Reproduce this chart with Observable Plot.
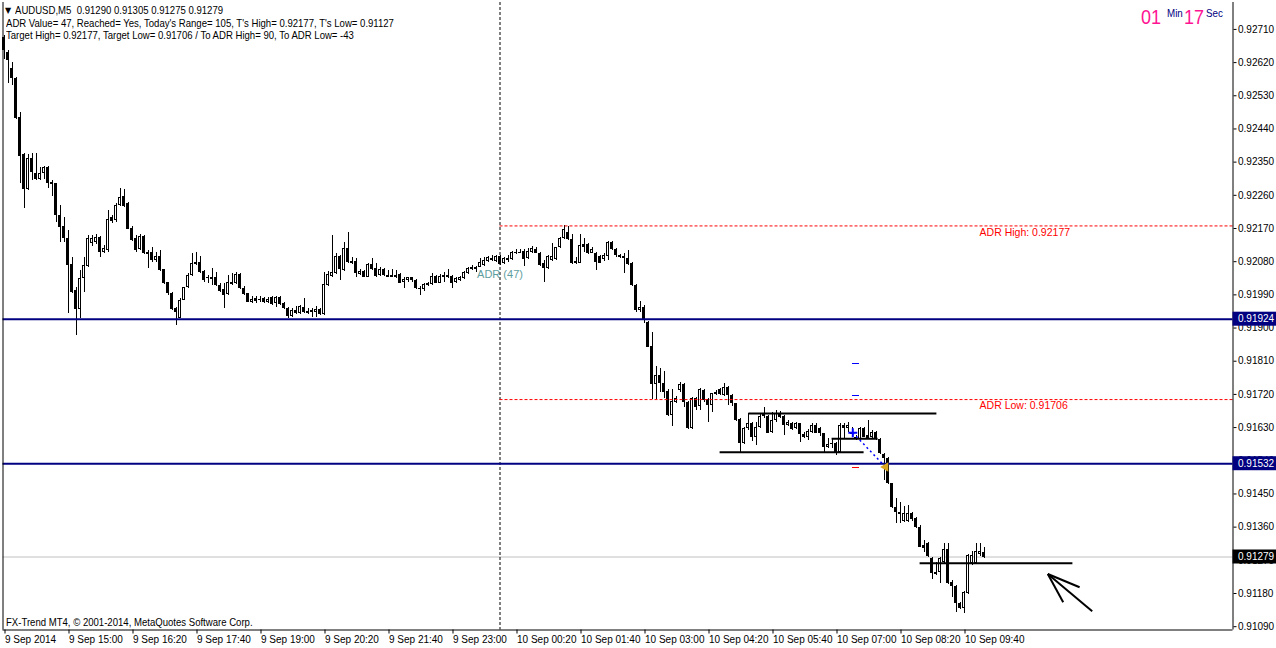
<!DOCTYPE html>
<html><head><meta charset="utf-8">
<script src="https://cdn.jsdelivr.net/npm/d3@7"></script>
<script src="https://cdn.jsdelivr.net/npm/@observablehq/plot@0.6"></script>
<style>
html,body{margin:0;padding:0;background:#fff;}
#wrap{position:relative;width:1276px;height:648px;overflow:hidden;}
#chart{position:absolute;left:0;top:0;}
.ov{position:absolute;white-space:pre;font-family:"Liberation Sans",Arial,sans-serif;font-size:11px;line-height:12px;color:#000;transform:scaleX(0.87);transform-origin:0 0;}
.big{position:absolute;white-space:pre;font-family:"Liberation Sans",Arial,sans-serif;font-size:20px;line-height:20px;color:#ff1493;transform:scaleX(0.9);transform-origin:0 0;}
.sm{position:absolute;white-space:pre;font-family:"Liberation Sans",Arial,sans-serif;font-size:11.5px;line-height:12px;color:#000080;transform:scaleX(0.85);transform-origin:0 0;}
</style></head><body>
<div id="wrap"><div id="chart"></div></div>
<script>
// ---------- data ----------
const startTime = Date.UTC(2014, 8, 9, 13, 40);   // first bar, M5
const barMinutes = 5;
const opens = [
0.92688,0.92648,0.92604,0.92577,0.92471,0.92371,0.92276,0.92360,0.92319,0.92303,
0.92319,0.92336,0.92295,0.92292,0.92205,0.92176,0.92143,0.92072,0.92002,0.91951,
0.92034,0.92067,0.92130,0.92133,0.92146,0.92105,0.92110,0.92200,0.92192,0.92232,
0.92257,0.92238,0.92170,0.92143,0.92113,0.92149,0.92105,0.92105,0.92083,0.92094,
0.92059,0.92024,0.91994,0.91953,0.91926,0.91975,0.92010,0.92042,0.92078,0.92078,
0.92053,0.92034,0.92031,0.92037,0.92015,0.92005,0.91991,0.92024,0.92021,0.92045,
0.92007,0.91994,0.91970,0.91981,0.91978,0.91981,0.91970,0.91983,0.91967,0.91983,
0.91967,0.91953,0.91932,0.91948,0.91940,0.91956,0.91945,0.91948,0.91943,0.91951,
0.91937,0.92015,0.92040,0.92048,0.92094,0.92056,0.92116,0.92080,0.92080,0.92045,
0.92053,0.92037,0.92072,0.92061,0.92042,0.92059,0.92042,0.92042,0.92042,0.92045,
0.92024,0.92029,0.92037,0.92029,0.92007,0.92005,0.92015,0.92018,0.92040,0.92021,
0.92042,0.92037,0.92040,0.92024,0.92029,0.92034,0.92048,0.92064,0.92064,0.92064,
0.92069,0.92080,0.92088,0.92080,0.92094,0.92075,0.92088,0.92086,0.92105,0.92105,
0.92108,0.92088,0.92105,0.92113,0.92102,0.92075,0.92061,0.92083,0.92086,0.92118,
0.92143,0.92160,0.92140,0.92080,0.92075,0.92127,0.92127,0.92102,0.92102,0.92094,
0.92086,0.92094,0.92133,0.92113,0.92097,0.92094,0.92088,0.92075,0.92015,0.91948,
0.91956,0.91915,0.91850,0.91747,0.91772,0.91750,0.91728,0.91663,0.91698,0.91731,
0.91747,0.91698,0.91627,0.91709,0.91687,0.91731,0.91706,0.91690,0.91720,0.91734,
0.91717,0.91739,0.91717,0.91695,0.91652,0.91587,0.91627,0.91641,0.91603,0.91630,
0.91668,0.91660,0.91617,0.91649,0.91668,0.91660,0.91636,0.91641,0.91627,0.91641,
0.91611,0.91603,0.91617,0.91636,0.91627,0.91614,0.91576,0.91587,0.91587,0.91562,
0.91636,0.91627,0.91614,0.91603,0.91598,0.91627,0.91608,0.91603,0.91617,0.91598,
0.91557,0.91546,0.91478,0.91413,0.91400,0.91375,0.91375,0.91397,0.91384,0.91359,
0.91310,0.91316,0.91275,0.91237,0.91237,0.91264,0.91300,0.91210,0.91199,0.91153,
0.91140,0.91180,0.91261,0.91261,0.91286,0.91290];
const highs = [
0.92693,0.92653,0.92621,0.92580,0.92485,0.92374,0.92371,0.92374,0.92374,0.92336,
0.92338,0.92338,0.92300,0.92292,0.92232,0.92200,0.92165,0.92091,0.92010,0.92056,
0.92091,0.92151,0.92151,0.92154,0.92149,0.92124,0.92219,0.92205,0.92238,0.92278,
0.92276,0.92241,0.92176,0.92151,0.92154,0.92151,0.92110,0.92118,0.92105,0.92110,
0.92059,0.92024,0.91997,0.91956,0.91981,0.92010,0.92048,0.92102,0.92105,0.92094,
0.92056,0.92042,0.92061,0.92050,0.92021,0.92021,0.92042,0.92048,0.92050,0.92048,
0.92013,0.91994,0.91986,0.91986,0.91986,0.91983,0.91983,0.91986,0.91986,0.91986,
0.91970,0.91956,0.91953,0.91959,0.91962,0.91981,0.91953,0.91953,0.91959,0.91953,
0.92050,0.92053,0.92151,0.92102,0.92097,0.92133,0.92160,0.92091,0.92088,0.92059,
0.92056,0.92075,0.92088,0.92075,0.92064,0.92061,0.92056,0.92059,0.92056,0.92048,
0.92037,0.92037,0.92037,0.92031,0.92013,0.92021,0.92024,0.92048,0.92042,0.92045,
0.92050,0.92059,0.92042,0.92037,0.92040,0.92053,0.92064,0.92069,0.92067,0.92088,
0.92091,0.92094,0.92097,0.92097,0.92097,0.92091,0.92097,0.92108,0.92113,0.92113,
0.92113,0.92116,0.92121,0.92118,0.92105,0.92083,0.92097,0.92130,0.92118,0.92146,
0.92177,0.92176,0.92154,0.92091,0.92154,0.92143,0.92130,0.92118,0.92105,0.92097,
0.92102,0.92135,0.92135,0.92116,0.92099,0.92102,0.92110,0.92078,0.92018,0.91972,
0.91962,0.91918,0.91888,0.91796,0.91790,0.91782,0.91734,0.91734,0.91714,0.91753,
0.91750,0.91700,0.91712,0.91712,0.91736,0.91734,0.91709,0.91723,0.91731,0.91736,
0.91750,0.91742,0.91720,0.91695,0.91654,0.91630,0.91668,0.91644,0.91644,0.91668,
0.91684,0.91663,0.91671,0.91676,0.91674,0.91663,0.91649,0.91644,0.91644,0.91641,
0.91617,0.91625,0.91641,0.91641,0.91630,0.91614,0.91600,0.91600,0.91589,0.91641,
0.91641,0.91644,0.91630,0.91608,0.91630,0.91630,0.91649,0.91622,0.91619,0.91600,
0.91560,0.91549,0.91478,0.91438,0.91427,0.91416,0.91419,0.91400,0.91386,0.91365,
0.91324,0.91318,0.91278,0.91264,0.91278,0.91316,0.91316,0.91215,0.91202,0.91156,
0.91186,0.91286,0.91294,0.91316,0.91316,0.91305];
const lows = [
0.92629,0.92564,0.92558,0.92465,0.92292,0.92224,0.92274,0.92300,0.92300,0.92300,
0.92303,0.92278,0.92257,0.92187,0.92133,0.92133,0.91940,0.91994,0.91879,0.91926,
0.91997,0.92064,0.92121,0.92127,0.92091,0.92102,0.92105,0.92184,0.92187,0.92230,
0.92227,0.92168,0.92135,0.92105,0.92110,0.92099,0.92061,0.92078,0.92078,0.92053,
0.92018,0.91989,0.91948,0.91906,0.91926,0.91975,0.92007,0.92040,0.92069,0.92048,
0.92024,0.92021,0.92015,0.92013,0.91997,0.91953,0.91989,0.92015,0.92018,0.92005,
0.91989,0.91970,0.91967,0.91967,0.91970,0.91967,0.91967,0.91962,0.91956,0.91962,
0.91951,0.91926,0.91929,0.91937,0.91937,0.91940,0.91937,0.91929,0.91929,0.91934,
0.91934,0.92013,0.92037,0.92045,0.92029,0.92053,0.92075,0.92072,0.92037,0.92042,
0.92037,0.92037,0.92056,0.92037,0.92040,0.92040,0.92037,0.92037,0.92034,0.92021,
0.92007,0.92024,0.92024,0.92005,0.91989,0.91999,0.92013,0.92015,0.92021,0.92021,
0.92024,0.92034,0.92007,0.92021,0.92026,0.92031,0.92045,0.92056,0.92050,0.92064,
0.92067,0.92078,0.92080,0.92078,0.92069,0.92072,0.92078,0.92083,0.92099,0.92102,
0.92067,0.92086,0.92102,0.92102,0.92067,0.92024,0.92059,0.92080,0.92083,0.92116,
0.92140,0.92138,0.92072,0.92072,0.92075,0.92105,0.92099,0.92102,0.92056,0.92075,
0.92080,0.92083,0.92110,0.92091,0.92088,0.92048,0.92069,0.92013,0.91943,0.91943,
0.91912,0.91847,0.91706,0.91706,0.91726,0.91709,0.91660,0.91633,0.91695,0.91726,
0.91684,0.91625,0.91625,0.91676,0.91676,0.91698,0.91644,0.91671,0.91717,0.91717,
0.91714,0.91690,0.91687,0.91646,0.91562,0.91584,0.91622,0.91592,0.91581,0.91627,
0.91655,0.91614,0.91614,0.91644,0.91655,0.91608,0.91633,0.91622,0.91625,0.91589,
0.91600,0.91595,0.91614,0.91614,0.91606,0.91562,0.91573,0.91573,0.91554,0.91560,
0.91600,0.91617,0.91603,0.91595,0.91595,0.91603,0.91598,0.91600,0.91595,0.91557,
0.91486,0.91476,0.91410,0.91370,0.91370,0.91373,0.91373,0.91375,0.91356,0.91305,
0.91291,0.91278,0.91218,0.91229,0.91207,0.91261,0.91205,0.91169,0.91129,0.91137,
0.91127,0.91178,0.91256,0.91259,0.91280,0.91275];
const closes = [
0.92653,0.92626,0.92577,0.92468,0.92366,0.92276,0.92360,0.92322,0.92303,0.92319,
0.92336,0.92292,0.92289,0.92205,0.92173,0.92143,0.92069,0.91997,0.91951,0.92034,
0.92069,0.92143,0.92143,0.92146,0.92105,0.92116,0.92195,0.92189,0.92232,0.92254,
0.92230,0.92168,0.92138,0.92110,0.92149,0.92102,0.92099,0.92083,0.92094,0.92056,
0.92021,0.91994,0.91951,0.91943,0.91975,0.92010,0.92042,0.92075,0.92072,0.92050,
0.92029,0.92037,0.92037,0.92015,0.91999,0.91989,0.92024,0.92021,0.92045,0.92007,
0.91991,0.91970,0.91978,0.91973,0.91975,0.91970,0.91978,0.91964,0.91983,0.91964,
0.91953,0.91932,0.91948,0.91940,0.91959,0.91943,0.91943,0.91943,0.91951,0.91937,
0.92018,0.92045,0.92050,0.92094,0.92059,0.92116,0.92078,0.92075,0.92048,0.92053,
0.92037,0.92072,0.92059,0.92040,0.92059,0.92042,0.92041,0.92041,0.92040,0.92021,
0.92031,0.92037,0.92029,0.92007,0.92006,0.92018,0.92021,0.92040,0.92021,0.92040,
0.92037,0.92042,0.92021,0.92034,0.92037,0.92050,0.92061,0.92059,0.92059,0.92078,
0.92083,0.92091,0.92087,0.92094,0.92072,0.92088,0.92086,0.92105,0.92102,0.92104,
0.92086,0.92108,0.92116,0.92102,0.92069,0.92061,0.92094,0.92094,0.92118,0.92143,
0.92168,0.92140,0.92075,0.92075,0.92124,0.92118,0.92102,0.92113,0.92078,0.92075,
0.92097,0.92133,0.92113,0.92097,0.92091,0.92088,0.92072,0.92015,0.91948,0.91956,
0.91920,0.91847,0.91747,0.91772,0.91750,0.91726,0.91663,0.91700,0.91709,0.91747,
0.91698,0.91627,0.91709,0.91684,0.91734,0.91703,0.91690,0.91723,0.91726,0.91720,
0.91739,0.91717,0.91695,0.91649,0.91587,0.91627,0.91641,0.91603,0.91630,0.91660,
0.91660,0.91614,0.91649,0.91668,0.91657,0.91636,0.91644,0.91625,0.91641,0.91611,
0.91603,0.91619,0.91636,0.91614,0.91614,0.91576,0.91584,0.91586,0.91560,0.91636,
0.91627,0.91636,0.91613,0.91598,0.91627,0.91603,0.91600,0.91617,0.91598,0.91560,
0.91546,0.91478,0.91413,0.91400,0.91394,0.91397,0.91397,0.91381,0.91359,0.91305,
0.91302,0.91280,0.91234,0.91234,0.91275,0.91300,0.91207,0.91199,0.91153,0.91140,
0.91183,0.91283,0.91283,0.91294,0.91294,0.91279];

const xTickLabels = ["9 Sep 2014","9 Sep 15:00","9 Sep 16:20","9 Sep 17:40","9 Sep 19:00","9 Sep 20:20",
  "9 Sep 21:40","9 Sep 23:00","10 Sep 00:20","10 Sep 01:40","10 Sep 03:00","10 Sep 04:20",
  "10 Sep 05:40","10 Sep 07:00","10 Sep 08:20","10 Sep 09:40"];
const xTickEvery = 16; // bars between labels (80 min)
const yTicks = [0.92710,0.92620,0.92530,0.92440,0.92350,0.92260,0.92170,0.92080,0.91990,
  0.91900,0.91810,0.91720,0.91630,0.91540,0.91450,0.91360,0.91270,0.91180,0.91090];
const priceMin = 0.91081, priceMax = 0.92783;
const barsVisible = 307.5;

const levelLines = [0.91924, 0.91532];          // navy horizontal lines
const bidPrice = 0.91279;
const adrValue = 47;
const adrLevels = [{name: "ADR High", price: 0.92177}, {name: "ADR Low", price: 0.91706}];
const adrLabelBar = 243.9;
const adrTextPrice = 0.92045;
const trendLines = [
  {x1: 186.1, x2: 233.1, y1: 0.91668, y2: 0.91668},
  {x1: 178.9, x2: 214.9, y1: 0.91563, y2: 0.91563},
  {x1: 206.9, x2: 218.4, y1: 0.91600, y2: 0.91600},
  {x1: 228.9, x2: 267.1, y1: 0.91262, y2: 0.91262}
];
const arrowSegments = [
  {x1: 272.05, y1: 0.91132, x2: 260.95, y2: 0.91233},
  {x1: 268.9, y1: 0.91197, x2: 260.95, y2: 0.91233},
  {x1: 264.8, y1: 0.91156, x2: 260.95, y2: 0.91233}
];
const signalLine = {x1: 212.2, y1: 0.91616, x2: 220.4, y2: 0.91523};
const signalDashes = [
  {price: 0.91804, color: "#0000ff"},
  {price: 0.91717, color: "#0000ff"},
  {price: 0.91522, color: "#ff0000"}
];
const signalDashBars = [212.2, 213.9];

const headerLines = [
  "AUDUSD,M5  0.91290 0.91305 0.91275 0.91279",
  "ADR Value= 47, Reached= Yes, Today's Range= 105, T's High= 0.92177, T's Low= 0.91127",
  "Target High= 0.92177, Target Low= 0.91706 / To ADR High= 90, To ADR Low= -43"
];
const footerText = "FX-Trend MT4, \u00a9 2001-2014, MetaQuotes Software Corp.";
const timer = {min: "01", sec: "17"};

// ---------- build ----------
const candles = opens.map((o, i) => ({i, o, h: highs[i], l: lows[i], c: closes[i]}));
const up = candles.filter(d => d.c > d.o);
const flat = candles.filter(d => Math.abs(d.c - d.o) < 0.00003);
const xMin = -0.25, xMax = xMin + barsVisible;
const dayStartBar = (Date.UTC(2014, 8, 10, 0, 0) - startTime) / (barMinutes * 60000);
const xTickBars = xTickLabels.map((_, k) => k * xTickEvery);
const labelOf = new Map(xTickBars.map((b, k) => [b, xTickLabels[k]]));
const plotH = 648 - 2 - 18.5;
const boxHalf = (priceMax - priceMin) / plotH * 7;
const tagSpan = 43.5 / ((1276 - 2.5 - 43.5) / barsVisible);
const priceTags = [
  {price: levelLines[0], bg: "#000080"},
  {price: levelLines[1], bg: "#000080"},
  {price: bidPrice, bg: "#000000"}
];
const half = 0.375;
const crisp = {shapeRendering: "crispEdges"};

const chart = Plot.plot({
  width: 1276, height: 648,
  marginLeft: 2.5, marginRight: 43.5, marginTop: 2, marginBottom: 18.5,
  x: {type: "linear", domain: [xMin, xMax]},
  y: {domain: [priceMin, priceMax]},
  style: "font-family:'Liberation Sans',Arial,sans-serif;font-size:10px;background:#fff;overflow:visible;color:#000;",
  marks: [
    Plot.ruleY([bidPrice], {stroke: "#c0c0c0"}),
    Plot.ruleX([dayStartBar], {stroke: "#000", strokeDasharray: "3,2"}),
    // candles
    Plot.ruleX(candles, {x: "i", y1: "l", y2: "h", stroke: "#000", ...crisp}),
    Plot.rect(candles, {x1: d => d.i - half, x2: d => d.i + half,
      y1: d => Math.min(d.o, d.c), y2: d => Math.max(d.o, d.c), fill: "#000", ...crisp}),
    Plot.rect(up, {x1: d => d.i - half, x2: d => d.i + half,
      y1: "o", y2: "c", fill: "#fff", inset: 1, ...crisp}),
    Plot.ruleY(flat, {y: "c", x1: d => d.i - half, x2: d => d.i + half, stroke: "#000", ...crisp}),
    // objects
    Plot.ruleY(adrLevels, {y: "price", x1: dayStartBar, x2: xMax, stroke: "#ff0000", strokeDasharray: "3,2"}),
    Plot.text(adrLevels, {x: adrLabelBar, y: "price", text: d => `${d.name}: ${d.price.toFixed(5)}`,
      fill: "#ff0000", textAnchor: "start", dy: 6.5, fontSize: 10.5}),
    Plot.text([`ADR (${adrValue})`], {x: dayStartBar, y: adrTextPrice, text: d => d,
      fill: "#5f9ea0", textAnchor: "middle", fontSize: 11}),
    Plot.ruleY(levelLines, {stroke: "#000080", strokeWidth: 2}),
    Plot.link(trendLines, {x1: "x1", y1: "y1", x2: "x2", y2: "y2", stroke: "#000", strokeWidth: 2}),
    Plot.link(arrowSegments, {x1: "x1", y1: "y1", x2: "x2", y2: "y2", stroke: "#000", strokeWidth: 2}),
    Plot.link([signalLine], {x1: "x1", y1: "y1", x2: "x2", y2: "y2", stroke: "#0000ff", strokeWidth: 1.5, strokeDasharray: "2,3"}),
    Plot.dot([signalLine], {x: "x1", y: "y1", symbol: "plus", r: 3, stroke: "#0000ff", strokeWidth: 2}),
    Plot.dot([signalLine], {x: "x2", y: "y2", symbol: "triangle", rotate: -90, r: 3.5, fill: "#daa520", stroke: "none"}),
    Plot.ruleY(signalDashes, {y: "price", x1: signalDashBars[0], x2: signalDashBars[1], stroke: "color", ...crisp}),
    // frame
    Plot.ruleX([xMin, xMax], {stroke: "#000"}),
    Plot.ruleY([priceMin], {stroke: "#000"}),
    // axes
    Plot.axisY(yTicks, {anchor: "right", tickSize: 3, tickPadding: 2, tickFormat: d => d.toFixed(5), textAnchor: "start"}),
    Plot.axisX(xTickBars, {anchor: "bottom", tickSize: 4, tickPadding: 2, tickFormat: d => labelOf.get(d), textAnchor: "start", dx: 1}),
    // price tags
    Plot.rect(priceTags, {x1: xMax, x2: xMax + tagSpan, y1: d => d.price - boxHalf, y2: d => d.price + boxHalf, fill: "bg"}),
    Plot.text(priceTags, {y: "price", frameAnchor: "right", dx: 5, text: d => d.price.toFixed(5), fill: "#fff", textAnchor: "start"})
  ]
});
const wrap = document.getElementById("wrap");
document.getElementById("chart").appendChild(chart);

function addDiv(cls, text, left, top, extra) {
  const el = document.createElement("div");
  el.className = cls;
  el.textContent = text;
  el.style.left = left + "px";
  el.style.top = top + "px";
  if (extra) Object.assign(el.style, extra);
  wrap.appendChild(el);
  return el;
}
addDiv("ov", "\u25BC", 5, 4.5, {fontSize: "8px", fontFamily: "'DejaVu Sans',sans-serif", transform: "none"});
addDiv("ov", headerLines[0], 15, 3.5);
addDiv("ov", headerLines[1], 6, 17);
addDiv("ov", headerLines[2], 6, 28.5);
addDiv("ov", footerText, 6, 615.7);
addDiv("big", timer.min, 1141, 7.1);
addDiv("sm", "Min", 1166.5, 6.5);
addDiv("big", timer.sec, 1184, 7.1);
addDiv("sm", "Sec", 1206, 6.5);
</script>
</body></html>
